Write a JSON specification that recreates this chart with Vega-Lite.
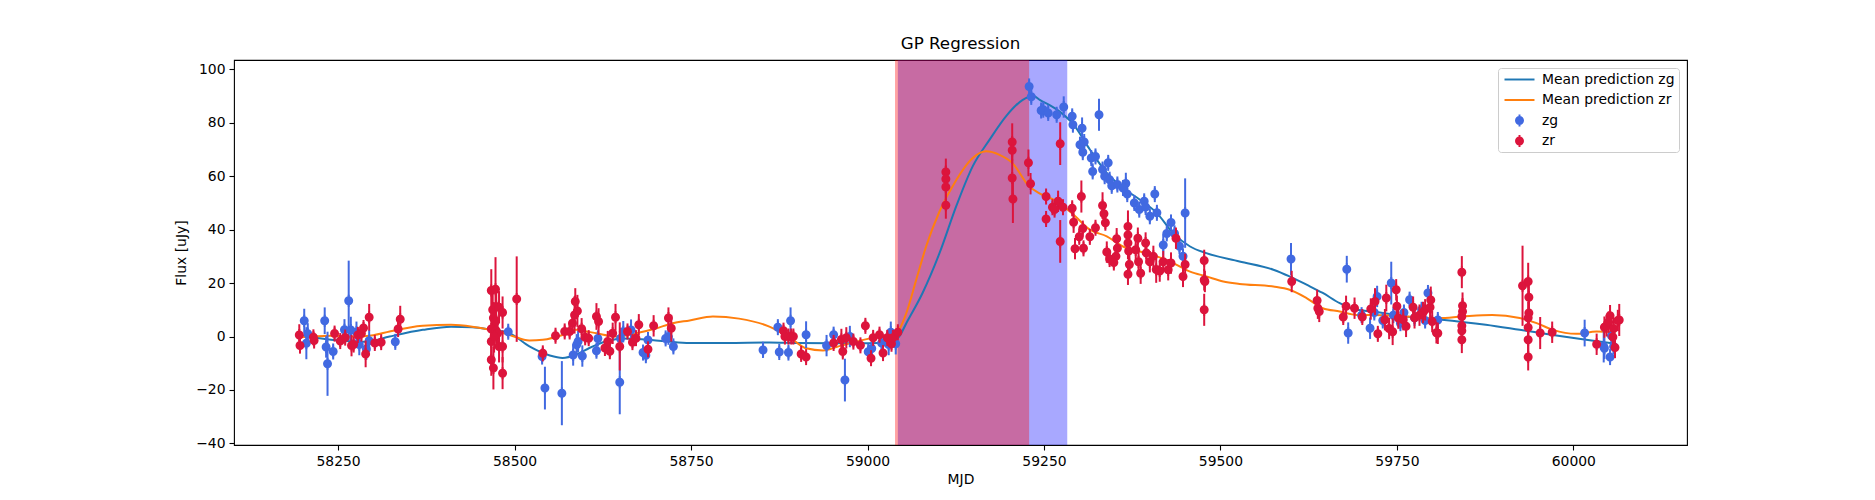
{
  "$schema": "https://vega.github.io/schema/vega-lite/v6.json",
  "width": 1453,
  "height": 385,
  "autosize": {"type": "none"},
  "padding": {"left": 234, "top": 60, "right": 188, "bottom": 55},
  "background": "white",
  "title": {"text": "GP Regression", "fontSize": 16.7, "fontWeight": "normal", "font": "DejaVu Sans", "color": "black", "offset": 7},
  "datasets": {
    "bands": [
      {"band": "zr", "start": 59039, "end": 59229},
      {"band": "zg", "start": 59043, "end": 59283}
    ],
    "gp": [
      {"band": "zg", "mjd": 58195, "flux": 0.5}, {"band": "zg", "mjd": 58240, "flux": -1.2}, {"band": "zg", "mjd": 58290, "flux": -2},
      {"band": "zg", "mjd": 58323, "flux": 0}, {"band": "zg", "mjd": 58370, "flux": 2.5}, {"band": "zg", "mjd": 58410, "flux": 3.7},
      {"band": "zg", "mjd": 58440, "flux": 3.5}, {"band": "zg", "mjd": 58465, "flux": 2.6}, {"band": "zg", "mjd": 58493, "flux": 1.2},
      {"band": "zg", "mjd": 58521, "flux": -3.7}, {"band": "zg", "mjd": 58550, "flux": -7.1}, {"band": "zg", "mjd": 58568, "flux": -8},
      {"band": "zg", "mjd": 58587, "flux": -6.8}, {"band": "zg", "mjd": 58606, "flux": -4.3}, {"band": "zg", "mjd": 58630, "flux": -1.8},
      {"band": "zg", "mjd": 58653, "flux": -0.7}, {"band": "zg", "mjd": 58680, "flux": -1}, {"band": "zg", "mjd": 58715, "flux": -1.8},
      {"band": "zg", "mjd": 58748, "flux": -2.4}, {"band": "zg", "mjd": 58800, "flux": -2.4}, {"band": "zg", "mjd": 58861, "flux": -2.2},
      {"band": "zg", "mjd": 58900, "flux": -2.4}, {"band": "zg", "mjd": 58950, "flux": -2.5}, {"band": "zg", "mjd": 59000, "flux": -2.5},
      {"band": "zg", "mjd": 59034, "flux": -2.2}, {"band": "zg", "mjd": 59045, "flux": 0}, {"band": "zg", "mjd": 59055, "flux": 5},
      {"band": "zg", "mjd": 59078, "flux": 16.3}, {"band": "zg", "mjd": 59102, "flux": 31.2}, {"band": "zg", "mjd": 59126, "flux": 49},
      {"band": "zg", "mjd": 59149, "flux": 63.7}, {"band": "zg", "mjd": 59173, "flux": 73.7}, {"band": "zg", "mjd": 59197, "flux": 82.7},
      {"band": "zg", "mjd": 59220, "flux": 88.6}, {"band": "zg", "mjd": 59235, "flux": 90}, {"band": "zg", "mjd": 59244, "flux": 88.6},
      {"band": "zg", "mjd": 59268, "flux": 85}, {"band": "zg", "mjd": 59292, "flux": 79.3}, {"band": "zg", "mjd": 59315, "flux": 70},
      {"band": "zg", "mjd": 59339, "flux": 61.2}, {"band": "zg", "mjd": 59362, "flux": 55.6}, {"band": "zg", "mjd": 59386, "flux": 51.2},
      {"band": "zg", "mjd": 59410, "flux": 46.2}, {"band": "zg", "mjd": 59433, "flux": 38.7}, {"band": "zg", "mjd": 59457, "flux": 33.7},
      {"band": "zg", "mjd": 59480, "flux": 31.2}, {"band": "zg", "mjd": 59527, "flux": 28.1}, {"band": "zg", "mjd": 59575, "flux": 25},
      {"band": "zg", "mjd": 59598, "flux": 22.5}, {"band": "zg", "mjd": 59622, "flux": 19.4}, {"band": "zg", "mjd": 59645, "flux": 16.3},
      {"band": "zg", "mjd": 59669, "flux": 12.5}, {"band": "zg", "mjd": 59693, "flux": 10}, {"band": "zg", "mjd": 59716, "flux": 9.4},
      {"band": "zg", "mjd": 59763, "flux": 7.5}, {"band": "zg", "mjd": 59810, "flux": 6.4}, {"band": "zg", "mjd": 59876, "flux": 4.4},
      {"band": "zg", "mjd": 59924, "flux": 2.5}, {"band": "zg", "mjd": 59971, "flux": 0.6}, {"band": "zg", "mjd": 60018, "flux": -1.2},
      {"band": "zg", "mjd": 60060, "flux": -2.7},
      {"band": "zr", "mjd": 58195, "flux": -0.3}, {"band": "zr", "mjd": 58240, "flux": 0.3}, {"band": "zr", "mjd": 58275, "flux": 0},
      {"band": "zr", "mjd": 58300, "flux": 0.5}, {"band": "zr", "mjd": 58323, "flux": 1.9}, {"band": "zr", "mjd": 58370, "flux": 4},
      {"band": "zr", "mjd": 58410, "flux": 4.4}, {"band": "zr", "mjd": 58440, "flux": 3.7}, {"band": "zr", "mjd": 58465, "flux": 2.5},
      {"band": "zr", "mjd": 58493, "flux": 0.6}, {"band": "zr", "mjd": 58521, "flux": -1.5}, {"band": "zr", "mjd": 58540, "flux": -1.2},
      {"band": "zr", "mjd": 58568, "flux": 0.6}, {"band": "zr", "mjd": 58587, "flux": 2.5}, {"band": "zr", "mjd": 58600, "flux": 2},
      {"band": "zr", "mjd": 58616, "flux": 1.2}, {"band": "zr", "mjd": 58644, "flux": 0}, {"band": "zr", "mjd": 58672, "flux": 1.2},
      {"band": "zr", "mjd": 58700, "flux": 3}, {"band": "zr", "mjd": 58724, "flux": 5}, {"band": "zr", "mjd": 58748, "flux": 6},
      {"band": "zr", "mjd": 58781, "flux": 7.5}, {"band": "zr", "mjd": 58818, "flux": 6.7}, {"band": "zr", "mjd": 58861, "flux": 3.7},
      {"band": "zr", "mjd": 58894, "flux": -1.2}, {"band": "zr", "mjd": 58913, "flux": -4.4}, {"band": "zr", "mjd": 58937, "flux": -5.2},
      {"band": "zr", "mjd": 58960, "flux": -3.6}, {"band": "zr", "mjd": 58984, "flux": -1.9}, {"band": "zr", "mjd": 59008, "flux": -0.5},
      {"band": "zr", "mjd": 59031, "flux": 0.7}, {"band": "zr", "mjd": 59043, "flux": 2}, {"band": "zr", "mjd": 59055, "flux": 8.8},
      {"band": "zr", "mjd": 59069, "flux": 21.2}, {"band": "zr", "mjd": 59083, "flux": 33.7}, {"band": "zr", "mjd": 59102, "flux": 46.8},
      {"band": "zr", "mjd": 59126, "flux": 58.7}, {"band": "zr", "mjd": 59149, "flux": 66.8}, {"band": "zr", "mjd": 59168, "flux": 69.3},
      {"band": "zr", "mjd": 59187, "flux": 68}, {"band": "zr", "mjd": 59205, "flux": 65}, {"band": "zr", "mjd": 59229, "flux": 56.2},
      {"band": "zr", "mjd": 59243, "flux": 53.7}, {"band": "zr", "mjd": 59268, "flux": 50.6}, {"band": "zr", "mjd": 59292, "flux": 45.6},
      {"band": "zr", "mjd": 59315, "flux": 40}, {"band": "zr", "mjd": 59339, "flux": 37.5}, {"band": "zr", "mjd": 59362, "flux": 33.7},
      {"band": "zr", "mjd": 59386, "flux": 31.8}, {"band": "zr", "mjd": 59410, "flux": 30}, {"band": "zr", "mjd": 59433, "flux": 27.5},
      {"band": "zr", "mjd": 59457, "flux": 24.3}, {"band": "zr", "mjd": 59480, "flux": 22.5}, {"band": "zr", "mjd": 59504, "flux": 20.6},
      {"band": "zr", "mjd": 59527, "flux": 19.7}, {"band": "zr", "mjd": 59575, "flux": 18.7}, {"band": "zr", "mjd": 59598, "flux": 17.5},
      {"band": "zr", "mjd": 59622, "flux": 14.4}, {"band": "zr", "mjd": 59645, "flux": 10.6}, {"band": "zr", "mjd": 59669, "flux": 9.4},
      {"band": "zr", "mjd": 59693, "flux": 8.1}, {"band": "zr", "mjd": 59716, "flux": 8.1}, {"band": "zr", "mjd": 59763, "flux": 7.5},
      {"band": "zr", "mjd": 59810, "flux": 6.9}, {"band": "zr", "mjd": 59842, "flux": 7.5}, {"band": "zr", "mjd": 59885, "flux": 8.1},
      {"band": "zr", "mjd": 59924, "flux": 6.9}, {"band": "zr", "mjd": 59948, "flux": 5}, {"band": "zr", "mjd": 59971, "flux": 2.5},
      {"band": "zr", "mjd": 60004, "flux": 1}, {"band": "zr", "mjd": 60033, "flux": 1.9}, {"band": "zr", "mjd": 60060, "flux": 1.5}
    ],
    "obs": [
      {"band": "zg", "mjd": 58202, "flux": 5.9, "err": 4.5}, {"band": "zg", "mjd": 58205, "flux": -2.5, "err": 6}, {"band": "zg", "mjd": 58207, "flux": 1, "err": 4},
      {"band": "zg", "mjd": 58231, "flux": 5.9, "err": 5}, {"band": "zg", "mjd": 58233, "flux": -3.9, "err": 4}, {"band": "zg", "mjd": 58235, "flux": -10.2, "err": 12},
      {"band": "zg", "mjd": 58243, "flux": -5.6, "err": 3}, {"band": "zg", "mjd": 58259, "flux": 2.5, "err": 4}, {"band": "zg", "mjd": 58265, "flux": 13.4, "err": 15},
      {"band": "zg", "mjd": 58268, "flux": 2.4, "err": 5}, {"band": "zg", "mjd": 58276, "flux": 1.6, "err": 4}, {"band": "zg", "mjd": 58280, "flux": -3, "err": 4},
      {"band": "zg", "mjd": 58290, "flux": -4.7, "err": 4}, {"band": "zg", "mjd": 58294, "flux": -1.6, "err": 4}, {"band": "zg", "mjd": 58331, "flux": -2, "err": 3},
      {"band": "zg", "mjd": 58491, "flux": 1.8, "err": 3}, {"band": "zg", "mjd": 58539, "flux": -7.5, "err": 3}, {"band": "zg", "mjd": 58543, "flux": -19.3, "err": 8},
      {"band": "zg", "mjd": 58567, "flux": -21.2, "err": 12}, {"band": "zg", "mjd": 58583, "flux": -6.9, "err": 4}, {"band": "zg", "mjd": 58588, "flux": -3.1, "err": 4},
      {"band": "zg", "mjd": 58590, "flux": -1.9, "err": 4}, {"band": "zg", "mjd": 58596, "flux": -7.3, "err": 4}, {"band": "zg", "mjd": 58616, "flux": -5.3, "err": 3},
      {"band": "zg", "mjd": 58618, "flux": -0.7, "err": 3}, {"band": "zg", "mjd": 58649, "flux": -17.1, "err": 12}, {"band": "zg", "mjd": 58650, "flux": -0.7, "err": 4},
      {"band": "zg", "mjd": 58654, "flux": 1.8, "err": 4}, {"band": "zg", "mjd": 58665, "flux": 2.4, "err": 4}, {"band": "zg", "mjd": 58682, "flux": -6, "err": 3},
      {"band": "zg", "mjd": 58686, "flux": -7, "err": 3}, {"band": "zg", "mjd": 58689, "flux": -1.3, "err": 3}, {"band": "zg", "mjd": 58714, "flux": -0.7, "err": 3},
      {"band": "zg", "mjd": 58718, "flux": -0.1, "err": 3}, {"band": "zg", "mjd": 58725, "flux": -3.7, "err": 3}, {"band": "zg", "mjd": 58852, "flux": -5, "err": 3},
      {"band": "zg", "mjd": 58873, "flux": 3.5, "err": 3}, {"band": "zg", "mjd": 58875, "flux": -5.8, "err": 3}, {"band": "zg", "mjd": 58891, "flux": 5.9, "err": 5},
      {"band": "zg", "mjd": 58888, "flux": -6, "err": 3}, {"band": "zg", "mjd": 58913, "flux": 0.7, "err": 5}, {"band": "zg", "mjd": 58942, "flux": -3.4, "err": 4},
      {"band": "zg", "mjd": 58952, "flux": 0.7, "err": 3}, {"band": "zg", "mjd": 58968, "flux": -16.3, "err": 8}, {"band": "zg", "mjd": 58975, "flux": 0, "err": 4},
      {"band": "zg", "mjd": 59001, "flux": -5.7, "err": 3}, {"band": "zg", "mjd": 59006, "flux": -4.5, "err": 4}, {"band": "zg", "mjd": 59020, "flux": -2.4, "err": 4},
      {"band": "zg", "mjd": 59030, "flux": -3, "err": 4}, {"band": "zg", "mjd": 59033, "flux": 1.6, "err": 4}, {"band": "zg", "mjd": 59040, "flux": -2.7, "err": 4},
      {"band": "zg", "mjd": 59229, "flux": 93.6, "err": 3}, {"band": "zg", "mjd": 59232, "flux": 89.7, "err": 3}, {"band": "zg", "mjd": 59246, "flux": 84.6, "err": 3},
      {"band": "zg", "mjd": 59249, "flux": 84.9, "err": 3}, {"band": "zg", "mjd": 59256, "flux": 83.7, "err": 3}, {"band": "zg", "mjd": 59268, "flux": 83, "err": 3},
      {"band": "zg", "mjd": 59278, "flux": 85.9, "err": 4}, {"band": "zg", "mjd": 59290, "flux": 82.4, "err": 3}, {"band": "zg", "mjd": 59291, "flux": 79.3, "err": 3},
      {"band": "zg", "mjd": 59304, "flux": 78, "err": 4}, {"band": "zg", "mjd": 59328, "flux": 83, "err": 6}, {"band": "zg", "mjd": 59301, "flux": 71.8, "err": 3},
      {"band": "zg", "mjd": 59307, "flux": 72.8, "err": 3}, {"band": "zg", "mjd": 59305, "flux": 69, "err": 3}, {"band": "zg", "mjd": 59317, "flux": 66.8, "err": 3},
      {"band": "zg", "mjd": 59323, "flux": 67.4, "err": 3}, {"band": "zg", "mjd": 59319, "flux": 61.8, "err": 3}, {"band": "zg", "mjd": 59333, "flux": 62.5, "err": 3},
      {"band": "zg", "mjd": 59341, "flux": 65, "err": 3}, {"band": "zg", "mjd": 59336, "flux": 60, "err": 3}, {"band": "zg", "mjd": 59343, "flux": 58.7, "err": 3},
      {"band": "zg", "mjd": 59346, "flux": 56.4, "err": 3}, {"band": "zg", "mjd": 59354, "flux": 56.9, "err": 3}, {"band": "zg", "mjd": 59366, "flux": 57.3, "err": 4},
      {"band": "zg", "mjd": 59368, "flux": 53.3, "err": 3}, {"band": "zg", "mjd": 59362, "flux": 55.6, "err": 3}, {"band": "zg", "mjd": 59378, "flux": 50, "err": 3},
      {"band": "zg", "mjd": 59385, "flux": 47.5, "err": 3}, {"band": "zg", "mjd": 59392, "flux": 50.6, "err": 3}, {"band": "zg", "mjd": 59400, "flux": 45, "err": 3},
      {"band": "zg", "mjd": 59407, "flux": 53.3, "err": 3}, {"band": "zg", "mjd": 59410, "flux": 46.3, "err": 3}, {"band": "zg", "mjd": 59394, "flux": 48.5, "err": 3},
      {"band": "zg", "mjd": 59419, "flux": 34.3, "err": 4}, {"band": "zg", "mjd": 59424, "flux": 38.6, "err": 3}, {"band": "zg", "mjd": 59430, "flux": 42.7, "err": 3},
      {"band": "zg", "mjd": 59435, "flux": 38.6, "err": 3}, {"band": "zg", "mjd": 59442, "flux": 33.8, "err": 3}, {"band": "zg", "mjd": 59447, "flux": 30, "err": 3},
      {"band": "zg", "mjd": 59450, "flux": 46.2, "err": 13}, {"band": "zg", "mjd": 59600, "flux": 29, "err": 6}, {"band": "zg", "mjd": 59679, "flux": 25.2, "err": 5},
      {"band": "zg", "mjd": 59681, "flux": 1.3, "err": 4}, {"band": "zg", "mjd": 59700, "flux": 8, "err": 3}, {"band": "zg", "mjd": 59712, "flux": 3.1, "err": 4},
      {"band": "zg", "mjd": 59718, "flux": 9, "err": 3}, {"band": "zg", "mjd": 59722, "flux": 15, "err": 4}, {"band": "zg", "mjd": 59730, "flux": 6, "err": 3},
      {"band": "zg", "mjd": 59742, "flux": 20, "err": 8}, {"band": "zg", "mjd": 59745, "flux": 8, "err": 3}, {"band": "zg", "mjd": 59755, "flux": 5, "err": 3},
      {"band": "zg", "mjd": 59760, "flux": 9, "err": 3}, {"band": "zg", "mjd": 59768, "flux": 13.8, "err": 3}, {"band": "zg", "mjd": 59775, "flux": 7, "err": 3},
      {"band": "zg", "mjd": 59785, "flux": 10, "err": 3}, {"band": "zg", "mjd": 59790, "flux": 6, "err": 3}, {"band": "zg", "mjd": 59794, "flux": 16.3, "err": 3},
      {"band": "zg", "mjd": 59808, "flux": 6.2, "err": 3}, {"band": "zg", "mjd": 60016, "flux": 1.3, "err": 5}, {"band": "zg", "mjd": 60043, "flux": -3.7, "err": 6},
      {"band": "zg", "mjd": 60044, "flux": -4.4, "err": 4}, {"band": "zg", "mjd": 60052, "flux": -7.7, "err": 3}, {"band": "zg", "mjd": 60057, "flux": -3.7, "err": 3},
      {"band": "zg", "mjd": 60054, "flux": 0.3, "err": 3},
      {"band": "zr", "mjd": 58195, "flux": 0.6, "err": 4}, {"band": "zr", "mjd": 58196, "flux": -3.4, "err": 3}, {"band": "zr", "mjd": 58215, "flux": -0.3, "err": 3},
      {"band": "zr", "mjd": 58216, "flux": -1.5, "err": 3}, {"band": "zr", "mjd": 58245, "flux": 1.1, "err": 3}, {"band": "zr", "mjd": 58253, "flux": -1.7, "err": 3},
      {"band": "zr", "mjd": 58260, "flux": -0.4, "err": 3}, {"band": "zr", "mjd": 58269, "flux": -3.4, "err": 4}, {"band": "zr", "mjd": 58272, "flux": -3, "err": 3},
      {"band": "zr", "mjd": 58278, "flux": 0.6, "err": 3}, {"band": "zr", "mjd": 58283, "flux": 1.1, "err": 3}, {"band": "zr", "mjd": 58286, "flux": 3.2, "err": 3},
      {"band": "zr", "mjd": 58289, "flux": -6.5, "err": 5}, {"band": "zr", "mjd": 58294, "flux": 7.2, "err": 5}, {"band": "zr", "mjd": 58302, "flux": -2.4, "err": 3},
      {"band": "zr", "mjd": 58311, "flux": -2.1, "err": 3}, {"band": "zr", "mjd": 58335, "flux": 2.8, "err": 3}, {"band": "zr", "mjd": 58338, "flux": 6.5, "err": 5},
      {"band": "zr", "mjd": 58467, "flux": 17.2, "err": 8}, {"band": "zr", "mjd": 58473, "flux": 17.7, "err": 12}, {"band": "zr", "mjd": 58469, "flux": 10, "err": 8},
      {"band": "zr", "mjd": 58474, "flux": 11.2, "err": 8}, {"band": "zr", "mjd": 58478, "flux": 11, "err": 6}, {"band": "zr", "mjd": 58483, "flux": 9, "err": 6},
      {"band": "zr", "mjd": 58470, "flux": 6.9, "err": 6}, {"band": "zr", "mjd": 58473, "flux": 5.6, "err": 6}, {"band": "zr", "mjd": 58467, "flux": 2.8, "err": 6},
      {"band": "zr", "mjd": 58474, "flux": 2.2, "err": 6}, {"band": "zr", "mjd": 58476, "flux": 1.2, "err": 6}, {"band": "zr", "mjd": 58467, "flux": -1.9, "err": 6},
      {"band": "zr", "mjd": 58471, "flux": 0, "err": 6}, {"band": "zr", "mjd": 58478, "flux": -3.7, "err": 6}, {"band": "zr", "mjd": 58483, "flux": -3.7, "err": 6},
      {"band": "zr", "mjd": 58467, "flux": -8.7, "err": 6}, {"band": "zr", "mjd": 58470, "flux": -11.8, "err": 8}, {"band": "zr", "mjd": 58483, "flux": -13.7, "err": 6},
      {"band": "zr", "mjd": 58503, "flux": 14, "err": 16}, {"band": "zr", "mjd": 58540, "flux": -6.3, "err": 3}, {"band": "zr", "mjd": 58558, "flux": 0.3, "err": 3},
      {"band": "zr", "mjd": 58571, "flux": 1.9, "err": 3}, {"band": "zr", "mjd": 58578, "flux": 1.9, "err": 3}, {"band": "zr", "mjd": 58582, "flux": 5, "err": 4},
      {"band": "zr", "mjd": 58585, "flux": 8.1, "err": 7}, {"band": "zr", "mjd": 58586, "flux": 13.1, "err": 5}, {"band": "zr", "mjd": 58589, "flux": 9.6, "err": 6},
      {"band": "zr", "mjd": 58595, "flux": 2.9, "err": 4}, {"band": "zr", "mjd": 58600, "flux": -0.3, "err": 3}, {"band": "zr", "mjd": 58605, "flux": -0.6, "err": 3},
      {"band": "zr", "mjd": 58616, "flux": 7.5, "err": 5}, {"band": "zr", "mjd": 58619, "flux": 5.6, "err": 5}, {"band": "zr", "mjd": 58628, "flux": -4.3, "err": 3},
      {"band": "zr", "mjd": 58632, "flux": -1.9, "err": 4}, {"band": "zr", "mjd": 58635, "flux": -5.5, "err": 3}, {"band": "zr", "mjd": 58639, "flux": 1.2, "err": 4},
      {"band": "zr", "mjd": 58643, "flux": 7.2, "err": 5}, {"band": "zr", "mjd": 58649, "flux": -3.7, "err": 9}, {"band": "zr", "mjd": 58660, "flux": 1.9, "err": 3},
      {"band": "zr", "mjd": 58667, "flux": -2.1, "err": 3}, {"band": "zr", "mjd": 58672, "flux": -0.6, "err": 3}, {"band": "zr", "mjd": 58676, "flux": 4.4, "err": 4},
      {"band": "zr", "mjd": 58689, "flux": -4.8, "err": 3}, {"band": "zr", "mjd": 58697, "flux": 4, "err": 4}, {"band": "zr", "mjd": 58718, "flux": 6.9, "err": 4},
      {"band": "zr", "mjd": 58722, "flux": 3.1, "err": 5}, {"band": "zr", "mjd": 58881, "flux": 2.2, "err": 3}, {"band": "zr", "mjd": 58883, "flux": 0, "err": 3},
      {"band": "zr", "mjd": 58888, "flux": 0, "err": 3}, {"band": "zr", "mjd": 58892, "flux": 0, "err": 3}, {"band": "zr", "mjd": 58895, "flux": 0, "err": 3},
      {"band": "zr", "mjd": 58906, "flux": -6.5, "err": 3}, {"band": "zr", "mjd": 58913, "flux": -7.7, "err": 3}, {"band": "zr", "mjd": 58952, "flux": -2.4, "err": 3},
      {"band": "zr", "mjd": 58963, "flux": -1.1, "err": 4}, {"band": "zr", "mjd": 58965, "flux": -5.6, "err": 3}, {"band": "zr", "mjd": 58970, "flux": -0.5, "err": 4},
      {"band": "zr", "mjd": 58980, "flux": -1.9, "err": 3}, {"band": "zr", "mjd": 58990, "flux": -3.3, "err": 3}, {"band": "zr", "mjd": 58997, "flux": 4, "err": 3},
      {"band": "zr", "mjd": 59005, "flux": -8.1, "err": 3}, {"band": "zr", "mjd": 59008, "flux": -0.5, "err": 3}, {"band": "zr", "mjd": 59017, "flux": 0.7, "err": 3},
      {"band": "zr", "mjd": 59022, "flux": -6.2, "err": 3}, {"band": "zr", "mjd": 59028, "flux": -0.5, "err": 3}, {"band": "zr", "mjd": 59034, "flux": -2.7, "err": 3},
      {"band": "zr", "mjd": 59036, "flux": -0.5, "err": 3}, {"band": "zr", "mjd": 59043, "flux": 1.6, "err": 3}, {"band": "zr", "mjd": 59111, "flux": 61.6, "err": 5},
      {"band": "zr", "mjd": 59111, "flux": 59, "err": 5}, {"band": "zr", "mjd": 59111, "flux": 56, "err": 5}, {"band": "zr", "mjd": 59111, "flux": 49.1, "err": 5},
      {"band": "zr", "mjd": 59205, "flux": 72.8, "err": 7}, {"band": "zr", "mjd": 59205, "flux": 69.7, "err": 5}, {"band": "zr", "mjd": 59205, "flux": 59.3, "err": 7},
      {"band": "zr", "mjd": 59206, "flux": 51.5, "err": 9}, {"band": "zr", "mjd": 59228, "flux": 65, "err": 5}, {"band": "zr", "mjd": 59231, "flux": 57.2, "err": 4},
      {"band": "zr", "mjd": 59253, "flux": 52.4, "err": 3}, {"band": "zr", "mjd": 59253, "flux": 44, "err": 3}, {"band": "zr", "mjd": 59270, "flux": 50.6, "err": 4},
      {"band": "zr", "mjd": 59273, "flux": 72.2, "err": 8}, {"band": "zr", "mjd": 59273, "flux": 35.6, "err": 8}, {"band": "zr", "mjd": 59262, "flux": 48.4, "err": 3},
      {"band": "zr", "mjd": 59277, "flux": 48.4, "err": 3}, {"band": "zr", "mjd": 59265, "flux": 47.5, "err": 3}, {"band": "zr", "mjd": 59290, "flux": 48, "err": 3},
      {"band": "zr", "mjd": 59292, "flux": 42.8, "err": 4}, {"band": "zr", "mjd": 59294, "flux": 32.9, "err": 4}, {"band": "zr", "mjd": 59303, "flux": 52.4, "err": 6},
      {"band": "zr", "mjd": 59300, "flux": 37.3, "err": 3}, {"band": "zr", "mjd": 59305, "flux": 40.4, "err": 3}, {"band": "zr", "mjd": 59306, "flux": 33, "err": 3},
      {"band": "zr", "mjd": 59315, "flux": 37.3, "err": 3}, {"band": "zr", "mjd": 59323, "flux": 40.7, "err": 3}, {"band": "zr", "mjd": 59333, "flux": 49, "err": 5},
      {"band": "zr", "mjd": 59335, "flux": 46, "err": 4}, {"band": "zr", "mjd": 59337, "flux": 42.6, "err": 3}, {"band": "zr", "mjd": 59339, "flux": 31.6, "err": 4},
      {"band": "zr", "mjd": 59353, "flux": 36.6, "err": 4}, {"band": "zr", "mjd": 59354, "flux": 33, "err": 4}, {"band": "zr", "mjd": 59343, "flux": 29, "err": 3},
      {"band": "zr", "mjd": 59352, "flux": 30, "err": 3}, {"band": "zr", "mjd": 59349, "flux": 27.7, "err": 3}, {"band": "zr", "mjd": 59369, "flux": 41.2, "err": 6},
      {"band": "zr", "mjd": 59369, "flux": 38, "err": 6}, {"band": "zr", "mjd": 59369, "flux": 35, "err": 6}, {"band": "zr", "mjd": 59370, "flux": 32, "err": 6},
      {"band": "zr", "mjd": 59369, "flux": 23.3, "err": 4}, {"band": "zr", "mjd": 59371, "flux": 27, "err": 4}, {"band": "zr", "mjd": 59380, "flux": 32.5, "err": 4},
      {"band": "zr", "mjd": 59383, "flux": 36.8, "err": 4}, {"band": "zr", "mjd": 59384, "flux": 28, "err": 4}, {"band": "zr", "mjd": 59387, "flux": 23.7, "err": 4},
      {"band": "zr", "mjd": 59394, "flux": 35, "err": 4}, {"band": "zr", "mjd": 59395, "flux": 31.3, "err": 4}, {"band": "zr", "mjd": 59400, "flux": 28, "err": 4},
      {"band": "zr", "mjd": 59405, "flux": 30, "err": 4}, {"band": "zr", "mjd": 59409, "flux": 25.1, "err": 5}, {"band": "zr", "mjd": 59414, "flux": 24.5, "err": 4},
      {"band": "zr", "mjd": 59419, "flux": 28, "err": 4}, {"band": "zr", "mjd": 59426, "flux": 25, "err": 4}, {"band": "zr", "mjd": 59430, "flux": 27.5, "err": 4},
      {"band": "zr", "mjd": 59437, "flux": 36.8, "err": 4}, {"band": "zr", "mjd": 59447, "flux": 22.5, "err": 4}, {"band": "zr", "mjd": 59450, "flux": 27, "err": 4},
      {"band": "zr", "mjd": 59477, "flux": 28.5, "err": 4}, {"band": "zr", "mjd": 59477, "flux": 21.2, "err": 4}, {"band": "zr", "mjd": 59478, "flux": 20.6, "err": 4},
      {"band": "zr", "mjd": 59477, "flux": 10, "err": 6}, {"band": "zr", "mjd": 59601, "flux": 20.6, "err": 4}, {"band": "zr", "mjd": 59637, "flux": 13.5, "err": 4},
      {"band": "zr", "mjd": 59638, "flux": 10.6, "err": 4}, {"band": "zr", "mjd": 59640, "flux": 9.4, "err": 4}, {"band": "zr", "mjd": 59674, "flux": 7.3, "err": 3},
      {"band": "zr", "mjd": 59678, "flux": 11.3, "err": 4}, {"band": "zr", "mjd": 59690, "flux": 10.6, "err": 4}, {"band": "zr", "mjd": 59701, "flux": 7.3, "err": 3},
      {"band": "zr", "mjd": 59713, "flux": 10.3, "err": 4}, {"band": "zr", "mjd": 59719, "flux": 13.1, "err": 5}, {"band": "zr", "mjd": 59723, "flux": 1, "err": 3},
      {"band": "zr", "mjd": 59733, "flux": 6.3, "err": 4}, {"band": "zr", "mjd": 59735, "flux": 14.4, "err": 5}, {"band": "zr", "mjd": 59739, "flux": 3, "err": 4},
      {"band": "zr", "mjd": 59744, "flux": 1.8, "err": 5}, {"band": "zr", "mjd": 59749, "flux": 17.5, "err": 4}, {"band": "zr", "mjd": 59750, "flux": 11.3, "err": 4},
      {"band": "zr", "mjd": 59752, "flux": 6.9, "err": 4}, {"band": "zr", "mjd": 59759, "flux": 6.3, "err": 4}, {"band": "zr", "mjd": 59763, "flux": 3.8, "err": 4},
      {"band": "zr", "mjd": 59773, "flux": 11, "err": 4}, {"band": "zr", "mjd": 59775, "flux": 7, "err": 4}, {"band": "zr", "mjd": 59782, "flux": 8, "err": 4},
      {"band": "zr", "mjd": 59787, "flux": 9, "err": 4}, {"band": "zr", "mjd": 59790, "flux": 10, "err": 4}, {"band": "zr", "mjd": 59797, "flux": 11, "err": 4},
      {"band": "zr", "mjd": 59798, "flux": 13.7, "err": 5}, {"band": "zr", "mjd": 59800, "flux": 5.6, "err": 4}, {"band": "zr", "mjd": 59806, "flux": 1.4, "err": 4},
      {"band": "zr", "mjd": 59808, "flux": 1.2, "err": 4}, {"band": "zr", "mjd": 59842, "flux": 24.1, "err": 6}, {"band": "zr", "mjd": 59843, "flux": 11.5, "err": 5},
      {"band": "zr", "mjd": 59843, "flux": 9.4, "err": 5}, {"band": "zr", "mjd": 59842, "flux": 7.5, "err": 5}, {"band": "zr", "mjd": 59842, "flux": 4, "err": 5},
      {"band": "zr", "mjd": 59842, "flux": 2.2, "err": 5}, {"band": "zr", "mjd": 59842, "flux": -1.2, "err": 5}, {"band": "zr", "mjd": 59928, "flux": 19, "err": 15},
      {"band": "zr", "mjd": 59936, "flux": 20.6, "err": 7}, {"band": "zr", "mjd": 59937, "flux": 14.7, "err": 6}, {"band": "zr", "mjd": 59937, "flux": 8.8, "err": 6},
      {"band": "zr", "mjd": 59936, "flux": 7, "err": 6}, {"band": "zr", "mjd": 59936, "flux": 3.4, "err": 6}, {"band": "zr", "mjd": 59936, "flux": -1.2, "err": 6},
      {"band": "zr", "mjd": 59936, "flux": -7.7, "err": 5}, {"band": "zr", "mjd": 59953, "flux": 1.3, "err": 6}, {"band": "zr", "mjd": 59970, "flux": 1.6, "err": 4},
      {"band": "zr", "mjd": 60033, "flux": -2.9, "err": 4}, {"band": "zr", "mjd": 60044, "flux": 3.5, "err": 4}, {"band": "zr", "mjd": 60047, "flux": 4, "err": 4},
      {"band": "zr", "mjd": 60052, "flux": 7.8, "err": 4}, {"band": "zr", "mjd": 60050, "flux": 5.4, "err": 4}, {"band": "zr", "mjd": 60057, "flux": 3, "err": 4},
      {"band": "zr", "mjd": 60065, "flux": 6.2, "err": 6}, {"band": "zr", "mjd": 60063, "flux": 6, "err": 4}, {"band": "zr", "mjd": 60056, "flux": -0.2, "err": 4},
      {"band": "zr", "mjd": 60059, "flux": -4.1, "err": 4}
    ]
  },
  "layer": [
    {
      "data": {"name": "bands"},
      "transform": [{"filter": "datum.band === 'zg'"}],
      "mark": {"type": "rect", "color": "#0000ff", "opacity": 0.34},
      "encoding": {
        "x": {"field": "start", "type": "quantitative", "title": "MJD",
          "scale": {"domain": [58102.5, 60161], "nice": false, "zero": false},
          "axis": {"values": [58250, 58500, 58750, 59000, 59250, 59500, 59750, 60000], "format": "d", "labelAngle": 0, "titlePadding": 5}},
        "x2": {"field": "end"}
      }
    },
    {
      "data": {"name": "bands"},
      "transform": [{"filter": "datum.band === 'zr'"}],
      "mark": {"type": "rect", "color": "#ff0000", "opacity": 0.36},
      "encoding": {
        "x": {"field": "start", "type": "quantitative", "title": "MJD"},
        "x2": {"field": "end"}
      }
    },
    {
      "data": {"name": "gp"},
      "transform": [{"filter": "datum.band === 'zg'"}],
      "mark": {"type": "line", "color": "#1f77b4", "strokeWidth": 2, "interpolate": "monotone"},
      "encoding": {
        "x": {"field": "mjd", "type": "quantitative", "title": "MJD"},
        "y": {"field": "flux", "type": "quantitative", "title": "Flux [uJy]",
          "scale": {"domain": [-40.6, 103.5], "nice": false, "zero": false},
          "axis": {"values": [-40, -20, 0, 20, 40, 60, 80, 100], "format": "d", "titlePadding": 7}}
      }
    },
    {
      "data": {"name": "gp"},
      "transform": [{"filter": "datum.band === 'zr'"}],
      "mark": {"type": "line", "color": "#ff7f0e", "strokeWidth": 2, "interpolate": "monotone"},
      "encoding": {
        "x": {"field": "mjd", "type": "quantitative", "title": "MJD"},
        "y": {"field": "flux", "type": "quantitative", "title": "Flux [uJy]"}
      }
    },
    {
      "data": {"name": "obs"},
      "transform": [{"filter": "datum.band === 'zg'"}],
      "mark": {"type": "errorbar", "color": "#4169e1", "thickness": 2},
      "encoding": {
        "x": {"field": "mjd", "type": "quantitative", "title": "MJD"},
        "y": {"field": "flux", "type": "quantitative", "title": "Flux [uJy]"},
        "yError": {"field": "err"}
      }
    },
    {
      "data": {"name": "obs"},
      "transform": [{"filter": "datum.band === 'zg'"}],
      "mark": {"type": "point", "filled": true, "size": 225, "opacity": 1, "strokeWidth": 0},
      "encoding": {
        "x": {"field": "mjd", "type": "quantitative", "title": "MJD"},
        "y": {"field": "flux", "type": "quantitative", "title": "Flux [uJy]"},
        "color": {"field": "band", "type": "nominal", "title": null,
          "scale": {"domain": ["Mean prediction zg", "Mean prediction zr", "zg", "zr"], "range": ["#1f77b4", "#ff7f0e", "#4169e1", "#dc143c"]}},
        "shape": {"field": "band", "type": "nominal", "title": null,
          "scale": {"domain": ["Mean prediction zg", "Mean prediction zr", "zg", "zr"],
            "range": ["M-2,-0.13H2V0.13H-2Z", "M-2,-0.13H2V0.13H-2Z",
              "M0.6,0A0.6,0.6,0,1,1,-0.6,0A0.6,0.6,0,1,1,0.6,0ZM-0.13,-0.8H0.13V0.8H-0.13Z",
              "M0.6,0A0.6,0.6,0,1,1,-0.6,0A0.6,0.6,0,1,1,0.6,0ZM-0.13,-0.8H0.13V0.8H-0.13Z"]}}
      }
    },
    {
      "data": {"name": "obs"},
      "transform": [{"filter": "datum.band === 'zr'"}],
      "mark": {"type": "errorbar", "color": "#dc143c", "thickness": 2},
      "encoding": {
        "x": {"field": "mjd", "type": "quantitative", "title": "MJD"},
        "y": {"field": "flux", "type": "quantitative", "title": "Flux [uJy]"},
        "yError": {"field": "err"}
      }
    },
    {
      "data": {"name": "obs"},
      "transform": [{"filter": "datum.band === 'zr'"}],
      "mark": {"type": "point", "filled": true, "size": 225, "opacity": 1, "strokeWidth": 0},
      "encoding": {
        "x": {"field": "mjd", "type": "quantitative", "title": "MJD"},
        "y": {"field": "flux", "type": "quantitative", "title": "Flux [uJy]"},
        "color": {"field": "band", "type": "nominal", "title": null,
          "scale": {"domain": ["Mean prediction zg", "Mean prediction zr", "zg", "zr"], "range": ["#1f77b4", "#ff7f0e", "#4169e1", "#dc143c"]}},
        "shape": {"field": "band", "type": "nominal", "title": null,
          "scale": {"domain": ["Mean prediction zg", "Mean prediction zr", "zg", "zr"],
            "range": ["M-2,-0.13H2V0.13H-2Z", "M-2,-0.13H2V0.13H-2Z",
              "M0.6,0A0.6,0.6,0,1,1,-0.6,0A0.6,0.6,0,1,1,0.6,0ZM-0.13,-0.8H0.13V0.8H-0.13Z",
              "M0.6,0A0.6,0.6,0,1,1,-0.6,0A0.6,0.6,0,1,1,0.6,0ZM-0.13,-0.8H0.13V0.8H-0.13Z"]}}
      }
    }
  ],
  "config": {
    "font": "DejaVu Sans",
    "view": {"stroke": "black", "strokeWidth": 1.1},
    "axis": {"grid": false, "domain": false, "ticks": true, "tickColor": "black", "tickSize": 5, "tickWidth": 1.1,
      "labelColor": "black", "labelFontSize": 13.9, "labelFont": "DejaVu Sans", "labelPadding": 4,
      "titleFont": "DejaVu Sans", "titleFontSize": 13.9, "titleFontWeight": "normal", "titleColor": "black", "labelFlush": false, "labelOverlap": false},
    "legend": {"orient": "none", "legendX": 1264, "legendY": 8, "direction": "vertical", "padding": 4,
      "strokeColor": "#cccccc", "fillColor": "rgba(255,255,255,0.8)", "cornerRadius": 3,
      "labelFont": "DejaVu Sans", "labelFontSize": 13.9, "labelColor": "black", "labelLimit": 400,
      "symbolSize": 225, "symbolStrokeWidth": 0, "symbolOpacity": 1, "rowPadding": 5.5, "labelOffset": 15, "symbolOffset": 10}
  }
}
